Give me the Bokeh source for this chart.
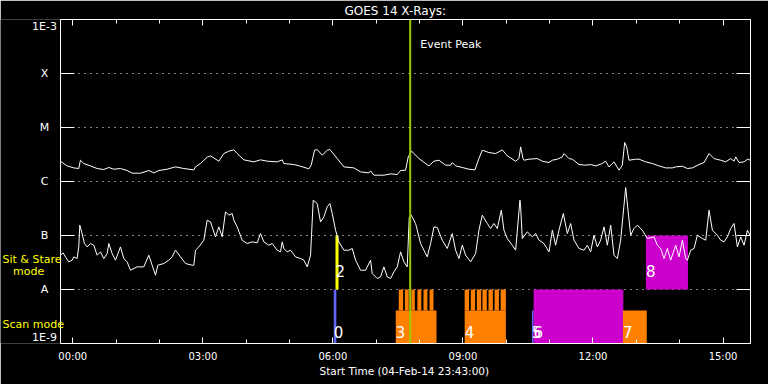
from bokeh.plotting import figure
from bokeh.models import (ColumnDataSource, FixedTicker, LinearAxis, LogAxis, Span,
                          Label, Range1d, CustomJSTickFormatter, Title)
from bokeh.embed import file_html
from bokeh.resources import INLINE

# ---------------- data ----------------
# time in hours after 05-Feb-14 00:00 UT; plot starts 04-Feb-14 23:43:00
x_start = -17 / 60
x_end = 15 + 38 / 60

# GOES 14 long channel (1-8 A), log10 flux [W/m^2]
long_t = [-0.285, -0.131, 0.023, 0.138, 0.177, 0.254, 0.408, 0.562, 0.715, 0.831, 0.946, 1.100, 1.254,
          1.369, 1.562, 1.754, 1.869, 1.985, 2.177, 2.369, 2.562, 2.792, 2.831, 2.946, 3.100, 3.177,
          3.369, 3.485, 3.600, 3.715, 3.792, 3.946, 4.177, 4.331, 4.485, 4.715, 4.831, 4.869, 5.100,
          5.254, 5.446, 5.500, 5.577, 5.638, 5.754, 5.869, 5.931, 6.100, 6.254, 6.485, 6.638, 6.831,
          6.869, 6.946, 7.177, 7.331, 7.485, 7.562, 7.677,
          7.738, 7.815, 7.985, 8.215, 8.331, 8.446, 8.600, 8.715, 8.754, 8.831, 8.985, 9.138, 9.277,
          9.369, 9.446, 9.600, 9.754, 9.908, 10.023, 10.215, 10.292, 10.331, 10.385, 10.408, 10.523,
          10.715, 10.831, 10.985, 11.062, 11.177, 11.292, 11.331, 11.446, 11.523, 11.677, 11.831,
          11.946, 12.062, 12.215, 12.292, 12.369, 12.485, 12.600, 12.677, 12.731, 12.777, 12.831,
          12.985, 13.062, 13.215, 13.369, 13.523, 13.677, 13.831, 13.908, 14.062, 14.177, 14.292,
          14.446, 14.562, 14.677, 14.792, 14.946, 15.062, 15.177, 15.254, 15.292, 15.369, 15.485,
          15.562, 15.638]
long_log = [-5.624, -5.711, -5.748, -5.760, -5.606, -5.667, -5.711, -5.760, -5.778, -5.741, -5.772,
            -5.760, -5.797, -5.846, -5.846, -5.797, -5.840, -5.797, -5.772, -5.729, -5.760, -5.785,
            -5.729, -5.667, -5.550, -5.525, -5.624, -5.482, -5.439, -5.414, -5.482, -5.599, -5.636,
            -5.599, -5.624, -5.636, -5.599, -5.667, -5.686, -5.717, -5.766, -5.698, -5.420, -5.408,
            -5.513, -5.420, -5.408, -5.575, -5.729, -5.748, -5.822, -5.840, -5.803, -5.883, -5.883,
            -5.859, -5.871, -5.797, -5.791,
            -5.544, -5.439, -5.575, -5.711, -5.624, -5.606, -5.698, -5.698, -5.649, -5.711, -5.741,
            -5.772, -5.785, -5.575, -5.420, -5.464, -5.482, -5.414, -5.525, -5.624, -5.575, -5.359,
            -5.575, -5.606, -5.587, -5.575, -5.624, -5.649, -5.606, -5.587, -5.544, -5.482, -5.575,
            -5.587, -5.686, -5.698, -5.686, -5.711, -5.667, -5.624, -5.729, -5.636, -5.791, -5.698,
            -5.278, -5.359, -5.606, -5.587, -5.587, -5.636, -5.667, -5.711, -5.748, -5.748, -5.729,
            -5.717, -5.760, -5.748, -5.686, -5.649, -5.482, -5.575, -5.606, -5.636, -5.575, -5.624,
            -5.544, -5.649, -5.636, -5.587, -5.606]

# GOES 14 short channel (0.5-4 A), log10 flux [W/m^2]
short_t = [-0.285, -0.223, -0.169, -0.092, -0.015, 0.023, 0.100, 0.138, 0.162, 0.215, 0.269, 0.331,
           0.408, 0.485, 0.562, 0.638, 0.715, 0.792, 0.831, 0.908, 0.985, 1.100, 1.177, 1.254, 1.331,
           1.485, 1.638, 1.754, 1.831, 1.908, 1.962, 2.100, 2.215, 2.292, 2.369, 2.485, 2.600, 2.754,
           2.792, 2.831, 2.908, 3.023, 3.100, 3.177, 3.292, 3.369, 3.446, 3.523, 3.600, 3.677, 3.715,
           3.792, 3.908, 4.023, 4.138, 4.254, 4.331, 4.408, 4.523, 4.600, 4.715, 4.792, 4.831, 4.869,
           4.946, 5.023,
           5.138, 5.254, 5.331, 5.408, 5.485, 5.546, 5.638, 5.715, 5.792, 5.869, 5.931, 5.985, 6.062,
           6.138, 6.254, 6.369, 6.446, 6.523, 6.638, 6.754, 6.869, 6.908, 7.023, 7.100, 7.177, 7.254,
           7.331, 7.408, 7.485, 7.562, 7.638, 7.715, 7.762, 7.808, 7.908, 8.023, 8.177, 8.254, 8.331,
           8.408, 8.523, 8.638, 8.754, 8.831, 8.908, 8.985, 9.062, 9.177, 9.292, 9.369, 9.446, 9.562,
           9.638, 9.715, 9.792, 9.885, 9.946, 10.023, 10.138, 10.215, 10.315,
           10.331, 10.369, 10.485, 10.600, 10.677, 10.754, 10.869, 10.985, 11.062, 11.138, 11.215,
           11.315, 11.408, 11.485, 11.562, 11.677, 11.792, 11.869, 11.946, 12.023, 12.100, 12.177,
           12.254, 12.331, 12.408, 12.485, 12.562, 12.638, 12.754, 12.808, 12.869, 12.946, 13.023,
           13.138, 13.254, 13.408, 13.485, 13.562, 13.638, 13.715, 13.792, 13.908, 13.985, 14.062,
           14.138, 14.177, 14.254, 14.331, 14.408, 14.523, 14.600, 14.677, 14.754, 14.869, 14.946,
           15.023, 15.100, 15.177, 15.254, 15.331, 15.408, 15.485, 15.562, 15.623]
short_log = [-7.365, -7.322, -7.396, -7.488, -7.457, -7.396, -7.427, -7.211, -6.809, -6.964, -7.149,
             -7.211, -7.149, -7.180, -7.365, -7.303, -7.427, -7.334, -7.149, -7.334, -7.457, -7.211,
             -7.427, -7.488, -7.643, -7.581, -7.581, -7.365, -7.550, -7.735, -7.550, -7.519, -7.457,
             -7.396, -7.272, -7.396, -7.519, -7.550, -7.550, -7.272, -7.211, -7.087, -6.717, -6.748,
             -7.025, -6.840, -7.025, -6.562, -6.624, -6.593, -6.717, -6.840, -7.087, -7.149, -7.118,
             -7.136, -6.964, -7.118, -7.180, -7.149, -7.272, -7.303, -7.118, -7.241, -7.303, -7.272,
             -7.396, -7.427, -7.457, -7.581, -7.365, -6.346, -6.408, -6.748, -6.655, -6.470, -6.408,
             -6.593, -6.902, -7.118, -7.272, -7.272, -7.241, -7.457, -7.643, -7.643, -7.457, -7.704,
             -7.797, -7.766, -7.581, -7.766, -7.797, -7.673, -7.581, -7.303, -7.488, -7.581, -6.655,
             -6.624, -6.778, -7.149, -7.396, -7.149, -6.840, -6.852, -7.087, -7.241, -6.964, -7.272,
             -7.427, -7.180, -7.365, -7.488, -7.334, -6.902, -6.624, -6.778, -6.871, -6.778, -6.871,
             -6.531, -6.902, -7.056, -7.180, -7.272, -6.346,
             -6.470, -7.056, -6.933, -7.025, -6.964, -7.087, -7.149, -7.303, -6.902, -7.180, -6.902,
             -6.593, -6.964, -6.778, -7.087, -7.241, -7.272, -7.180, -7.303, -6.995, -7.211, -7.087,
             -6.840, -7.180, -6.809, -7.365, -7.427, -7.087, -6.112, -6.532, -6.995, -6.871, -6.809,
             -6.902, -7.056, -7.025, -7.180, -7.241, -7.427, -7.241, -7.457, -7.180, -7.396, -7.087,
             -7.427, -7.457, -7.272, -7.241, -6.995, -7.056, -7.087, -6.532, -6.902, -6.995, -7.087,
             -7.118, -7.025, -6.871, -6.778, -7.211, -7.025, -7.180, -6.902, -6.995]

level_values = [1e-9, 1e-8, 1e-7, 1e-6, 1e-5, 1e-4, 1e-3]
level_names = ["1E-9", "A", "B", "C", "M", "X", "1E-3"]

hour_ticks = [0, 3, 6, 9, 12, 15]
hour_labels = ["00:00", "03:00", "06:00", "09:00", "12:00", "15:00"]
minor_hours = list(range(0, 16))

event_peak = 7 + 47 / 60

# observations (scan mode between 1E-9 and A, sit & stare between A and B)
obs_id = ["0", "2", "3", "4", "5", "6", "7", "8"]
obs_mode = ["scan", "sit", "scan", "scan", "scan", "scan", "scan", "sit"]
obs_kind = ["k1", "k2", "k3", "k3", "k1", "k4", "k3", "k4"]
obs_start = [6.02, 6.06, 7.45, 9.04, 10.59, 10.63, 12.69, 13.22]
obs_end = [6.08, 6.13, 8.39, 9.99, 10.63, 12.70, 13.24, 14.19]
obs_low = [1e-9, 1e-8, 1e-9, 1e-9, 1e-9, 1e-9, 1e-9, 1e-8]
obs_high = [1e-8, 1e-7, 4.1e-9, 4.1e-9, 4.1e-9, 1e-8, 4.1e-9, 1e-7]

# individual raster exposures on top of rasters 3 and 4
exp_start = [7.52, 7.66, 7.81, 7.95, 8.09, 8.23, 9.04, 9.18, 9.32, 9.45, 9.59, 9.73, 9.87]
exp_end = [7.62, 7.75, 7.89, 8.04, 8.18, 8.32, 9.14, 9.28, 9.42, 9.55, 9.69, 9.83, 9.99]
exp_low = 4.1e-9
exp_high = 1e-8

mode_names = ["Sit & Stare", "mode", "Scan mode"]
title_text = "GOES 14 X-Rays:"
xlabel_text = "Start Time (04-Feb-14 23:43:00)"

# ---------------- style / layout ----------------
kind_color = {"k1": "#6464ff", "k2": "#ffff00", "k3": "#ff8000", "k4": "#cc00cc"}
FONT = "DejaVu Sans"
LABEL_STRIP = 60      # px left of the time axis start, inside the frame, for the level names
PLOT_W = 690          # px between start and end of the time axis
x_left = x_start - LABEL_STRIP * (x_end - x_start) / PLOT_W

p = figure(width=768, height=384, x_range=Range1d(x_left, x_end), y_range=Range1d(1e-9, 1e-3),
           y_axis_type="log", x_axis_location=None, y_axis_location=None,
           output_backend="svg", toolbar_location=None,
           min_border_left=0, min_border_right=18, min_border_top=19, min_border_bottom=41,
           background_fill_color="black", border_fill_color="black", outline_line_color=None)
p.xgrid.visible = False
p.ygrid.visible = False

p.title.text = title_text
p.title.align = "left"
p.title.offset = 344
p.title.standoff = 3
p.title.text_color = "white"
p.title.text_font = FONT
p.title.text_font_size = "12px"
p.title.text_font_style = "normal"

blank = CustomJSTickFormatter(code="return ''")

yt = FixedTicker(ticks=level_values, minor_ticks=[])
ax_l = LogAxis(ticker=yt, formatter=blank, fixed_location=x_start, major_tick_in=14,
               major_tick_out=0, minor_tick_in=0, minor_tick_out=0, axis_line_color="white",
               major_tick_line_color="white", major_label_text_font_size="0px",
               major_label_standoff=0)
p.add_layout(ax_l, "left")
ax_r = LogAxis(ticker=yt, formatter=blank, major_tick_in=14, major_tick_out=0,
               minor_tick_in=0, minor_tick_out=0, axis_line_color="white",
               major_tick_line_color="white", major_label_text_font_size="0px",
               major_label_standoff=0)
p.add_layout(ax_r, "right")

xt = FixedTicker(ticks=hour_ticks, minor_ticks=minor_hours)
xb = LinearAxis(ticker=xt, bounds=(x_start, x_end), major_tick_in=6, major_tick_out=0,
                minor_tick_in=4, minor_tick_out=0,
                axis_line_color="white", major_tick_line_color="white", minor_tick_line_color="white",
                major_label_overrides={h: s for h, s in zip(hour_ticks, hour_labels)},
                major_label_text_color="white", major_label_text_font=FONT,
                major_label_text_font_size="10px", major_label_standoff=7)
p.add_layout(xb, "below")
p.add_layout(Title(text=xlabel_text, align="left", offset=319, standoff=0, vertical_align="top",
                   text_color="white", text_font=FONT, text_font_size="10.5px",
                   text_font_style="normal"), "below")
xa = LinearAxis(ticker=xt, bounds=(x_start, x_end), formatter=blank, major_tick_in=6,
                major_tick_out=0, minor_tick_in=4, minor_tick_out=0, axis_line_color="white",
                major_tick_line_color="white", minor_tick_line_color="white",
                major_label_text_font_size="0px", major_label_standoff=0)
p.add_layout(xa, "above")

# dotted class levels
inner = level_values[1:-1]
p.segment(x0=[x_start] * len(inner), x1=[x_end] * len(inner), y0=inner, y1=inner,
          line_color="white", line_width=1, line_dash="1 5")

# observation bars
obs_src = ColumnDataSource(dict(left=obs_start, right=obs_end, bottom=obs_low, top=obs_high,
                                color=[kind_color[k] for k in obs_kind]))
p.quad(left="left", right="right", bottom="bottom", top="top", fill_color="color",
       line_color=None, source=obs_src)
exp_src = ColumnDataSource(dict(left=exp_start, right=exp_end,
                                bottom=[exp_low] * len(exp_start), top=[exp_high] * len(exp_start)))
p.quad(left="left", right="right", bottom="bottom", top="top", fill_color=kind_color["k3"],
       line_color=None, source=exp_src)

# light curves
p.line(long_t, [10 ** v for v in long_log], line_color="white", line_width=1)
p.line(short_t, [10 ** v for v in short_log], line_color="white", line_width=1)

p.add_layout(Span(location=event_peak, dimension="height", line_color="#99cc00", line_width=2))
p.add_layout(Label(x=event_peak, y=level_values[-1], x_offset=10, y_offset=-18, text="Event Peak",
                   text_baseline="top", text_color="white", text_font=FONT, text_font_size="11px"))

# observation numbers
for oid, mode, st, lo in zip(obs_id, obs_mode, obs_start, obs_low):
    p.add_layout(Label(x=st, y=lo, x_offset=0, y_offset=(6 if mode == "scan" else 13), text=oid,
                       text_baseline="bottom", text_color="white", text_font=FONT,
                       text_font_size="15px"))

# class level names, left of the time axis start
for v, name in zip(level_values, level_names):
    if v == level_values[-1]:
        base = "top"
    elif v == level_values[0]:
        base = "bottom"
    else:
        base = "middle"
    p.add_layout(Label(x=x_start, y=v, x_offset=-16, text=name, text_align="center",
                       text_baseline=base, text_color="white", text_font=FONT,
                       text_font_size="11px"))

sit_mid = (level_values[1] * level_values[2]) ** 0.5
scan_mid = (level_values[0] * level_values[1]) ** 0.5
for txt, y, xo, yo in zip(mode_names, [sit_mid, sit_mid, scan_mid], [-58, -47.5, -58],
                          [3.5, -8.5, -7.8]):
    p.add_layout(Label(x=x_start, y=y, x_offset=xo, y_offset=yo, text=txt, text_align="left",
                       text_baseline="middle", text_color="#ffff00", text_font=FONT,
                       text_font_size="11px"))

open("out.html", "w").write(file_html(p, INLINE))
